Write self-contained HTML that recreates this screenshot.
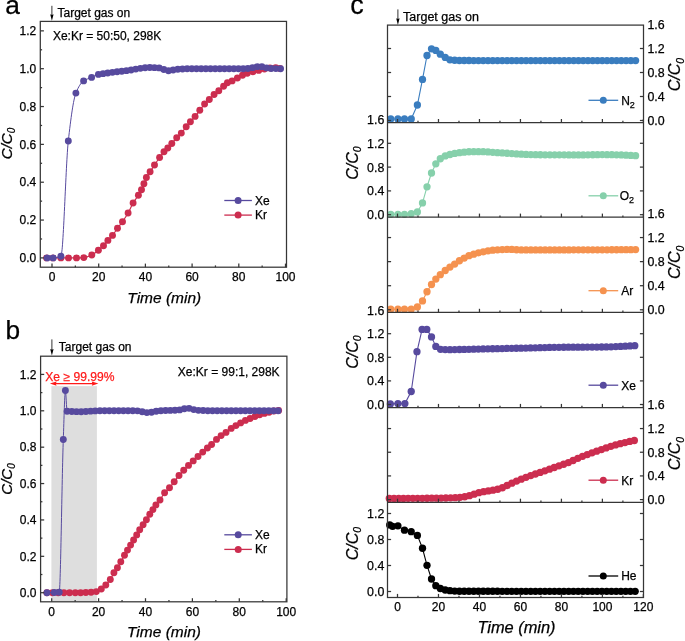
<!DOCTYPE html>
<html><head><meta charset="utf-8"><style>
html,body{margin:0;padding:0;background:#fff;width:685px;height:641px;overflow:hidden;position:relative}
</style></head><body>
<div style="position:absolute;left:0;top:0;width:685px;height:641px;will-change:transform">
<svg width="685" height="641" viewBox="0 0 685 641" style="position:absolute;left:0;top:0"><g font-family='"Liberation Sans", sans-serif'><path d="M46.60,257.90 C48.73,257.90 50.87,257.90 53.00,257.90 C55.63,257.90 58.27,257.90 60.90,257.90 C63.43,257.90 65.97,257.90 68.50,257.90 C71.17,257.90 73.83,257.90 76.50,257.90 C78.93,257.90 81.37,257.78 83.80,257.60 C86.47,257.41 89.13,256.21 91.80,255.00 C94.00,254.00 96.20,251.94 98.40,250.20 C100.10,248.85 101.80,247.53 103.50,245.80 C104.97,244.31 106.43,242.09 107.90,240.40 C109.43,238.63 110.97,237.28 112.50,235.40 C114.17,233.35 115.83,230.58 117.50,228.30 C119.17,226.02 120.83,224.08 122.50,221.70 C124.37,219.04 126.23,216.27 128.10,213.00 C129.77,210.08 131.43,205.81 133.10,203.00 C134.87,200.02 136.63,198.17 138.40,195.30 C139.43,193.62 140.47,191.88 141.50,189.70 C142.30,188.01 143.10,185.69 143.90,183.70 C144.73,181.62 145.57,179.11 146.40,177.50 C147.63,175.12 148.87,173.70 150.10,171.80 C151.57,169.54 153.03,167.21 154.50,165.00 C156.20,162.44 157.90,159.84 159.60,157.50 C161.07,155.48 162.53,153.45 164.00,151.80 C165.27,150.37 166.53,149.34 167.80,148.00 C169.13,146.59 170.47,145.02 171.80,143.50 C173.43,141.63 175.07,139.58 176.70,137.80 C178.23,136.13 179.77,134.84 181.30,133.10 C182.93,131.24 184.57,128.84 186.20,126.80 C187.60,125.05 189.00,123.34 190.40,121.70 C191.97,119.87 193.53,118.29 195.10,116.40 C196.67,114.51 198.23,112.34 199.80,110.30 C201.40,108.21 203.00,105.77 204.60,104.00 C206.17,102.27 207.73,101.06 209.30,99.50 C210.90,97.90 212.50,95.96 214.10,94.50 C215.67,93.07 217.23,92.06 218.80,90.70 C220.40,89.31 222.00,87.66 223.60,86.20 C224.87,85.04 226.13,83.51 227.40,82.80 C228.97,81.92 230.53,81.63 232.10,80.90 C233.87,80.08 235.63,78.97 237.40,78.00 C239.10,77.07 240.80,75.98 242.50,75.20 C244.10,74.47 245.70,73.81 247.30,73.30 C249.20,72.70 251.10,72.28 253.00,71.80 C254.90,71.32 256.80,70.85 258.70,70.40 C260.60,69.95 262.50,69.50 264.40,69.10 C266.27,68.71 268.13,68.19 270.00,68.00 C271.90,67.80 273.80,67.60 275.70,67.60 C277.10,67.60 278.50,68.20 279.90,68.50" fill="none" stroke="#cc2d4f" stroke-width="1.2"/><g fill="#cc2d4f"><circle cx="46.60" cy="257.90" r="3.45"/><circle cx="53.00" cy="257.90" r="3.45"/><circle cx="60.90" cy="257.90" r="3.45"/><circle cx="68.50" cy="257.90" r="3.45"/><circle cx="76.50" cy="257.90" r="3.45"/><circle cx="83.80" cy="257.60" r="3.45"/><circle cx="91.80" cy="255.00" r="3.45"/><circle cx="98.40" cy="250.20" r="3.45"/><circle cx="103.50" cy="245.80" r="3.45"/><circle cx="107.90" cy="240.40" r="3.45"/><circle cx="112.50" cy="235.40" r="3.45"/><circle cx="117.50" cy="228.30" r="3.45"/><circle cx="122.50" cy="221.70" r="3.45"/><circle cx="128.10" cy="213.00" r="3.45"/><circle cx="133.10" cy="203.00" r="3.45"/><circle cx="138.40" cy="195.30" r="3.45"/><circle cx="141.50" cy="189.70" r="3.45"/><circle cx="143.90" cy="183.70" r="3.45"/><circle cx="146.40" cy="177.50" r="3.45"/><circle cx="150.10" cy="171.80" r="3.45"/><circle cx="154.50" cy="165.00" r="3.45"/><circle cx="159.60" cy="157.50" r="3.45"/><circle cx="164.00" cy="151.80" r="3.45"/><circle cx="167.80" cy="148.00" r="3.45"/><circle cx="171.80" cy="143.50" r="3.45"/><circle cx="176.70" cy="137.80" r="3.45"/><circle cx="181.30" cy="133.10" r="3.45"/><circle cx="186.20" cy="126.80" r="3.45"/><circle cx="190.40" cy="121.70" r="3.45"/><circle cx="195.10" cy="116.40" r="3.45"/><circle cx="199.80" cy="110.30" r="3.45"/><circle cx="204.60" cy="104.00" r="3.45"/><circle cx="209.30" cy="99.50" r="3.45"/><circle cx="214.10" cy="94.50" r="3.45"/><circle cx="218.80" cy="90.70" r="3.45"/><circle cx="223.60" cy="86.20" r="3.45"/><circle cx="227.40" cy="82.80" r="3.45"/><circle cx="232.10" cy="80.90" r="3.45"/><circle cx="237.40" cy="78.00" r="3.45"/><circle cx="242.50" cy="75.20" r="3.45"/><circle cx="247.30" cy="73.30" r="3.45"/><circle cx="253.00" cy="71.80" r="3.45"/><circle cx="258.70" cy="70.40" r="3.45"/><circle cx="264.40" cy="69.10" r="3.45"/><circle cx="270.00" cy="68.00" r="3.45"/><circle cx="275.70" cy="67.60" r="3.45"/><circle cx="279.90" cy="68.50" r="3.45"/></g><path d="M47.20,257.90 C49.17,257.90 51.13,257.90 53.10,257.90 C55.70,257.90 58.30,257.36 60.90,256.30 C63.37,255.29 65.83,163.18 68.30,141.00 C70.83,118.22 73.37,99.52 75.90,93.10 C78.47,86.59 81.03,82.67 83.60,80.90 C86.27,79.06 88.93,78.57 91.60,77.40 C93.87,76.40 96.13,74.90 98.40,74.40 C99.97,74.05 101.53,73.91 103.10,73.67 C104.66,73.44 106.21,73.20 107.77,72.97 C109.33,72.75 110.88,72.54 112.44,72.34 C114.00,72.13 115.55,71.95 117.11,71.76 C118.67,71.57 120.22,71.39 121.78,71.20 C123.34,71.01 124.89,70.84 126.45,70.63 C128.01,70.42 129.56,70.18 131.12,69.93 C132.68,69.68 134.23,69.37 135.79,69.11 C137.35,68.84 138.90,68.55 140.46,68.33 C142.02,68.11 143.57,67.86 145.13,67.76 C146.69,67.66 148.24,67.57 149.80,67.57 C151.36,67.57 152.91,67.62 154.47,67.67 C156.03,67.72 157.58,67.78 159.14,67.92 C160.70,68.07 162.25,69.07 163.81,69.53 C165.37,70.00 166.92,70.77 168.48,70.77 C170.04,70.77 171.59,70.31 173.15,70.07 C174.71,69.82 176.26,69.43 177.82,69.29 C179.38,69.15 180.93,69.08 182.49,69.00 C184.05,68.92 185.60,68.83 187.16,68.79 C188.72,68.75 190.27,68.70 191.83,68.70 C193.39,68.70 194.94,68.70 196.50,68.70 C198.06,68.70 199.61,68.70 201.17,68.70 C202.73,68.70 204.28,68.70 205.84,68.70 C207.40,68.70 208.95,68.70 210.51,68.70 C212.07,68.70 213.62,68.70 215.18,68.70 C216.74,68.70 218.29,68.70 219.85,68.70 C221.41,68.70 222.96,68.70 224.52,68.70 C226.08,68.70 227.63,68.70 229.19,68.70 C230.75,68.70 232.30,68.70 233.86,68.70 C235.42,68.70 236.97,68.70 238.53,68.70 C240.09,68.70 241.64,68.70 243.20,68.70 C244.76,68.70 246.31,68.64 247.87,68.57 C249.43,68.49 250.98,67.95 252.54,67.63 C254.10,67.31 255.65,66.64 257.21,66.64 C258.77,66.64 260.32,66.64 261.88,66.65 C263.44,66.65 264.99,67.63 266.55,67.88 C268.11,68.14 269.66,68.34 271.22,68.43 C272.78,68.53 274.33,68.59 275.89,68.62 C277.45,68.66 279.00,68.67 280.56,68.70" fill="none" stroke="#574a9e" stroke-width="1.0"/><g fill="#574a9e"><circle cx="47.20" cy="257.90" r="3.45"/><circle cx="53.10" cy="257.90" r="3.45"/><circle cx="60.90" cy="256.30" r="3.45"/><circle cx="68.30" cy="141.00" r="3.45"/><circle cx="75.90" cy="93.10" r="3.45"/><circle cx="83.60" cy="80.90" r="3.45"/><circle cx="91.60" cy="77.40" r="3.45"/><circle cx="98.40" cy="74.40" r="3.45"/><circle cx="103.10" cy="73.67" r="3.45"/><circle cx="107.77" cy="72.97" r="3.45"/><circle cx="112.44" cy="72.34" r="3.45"/><circle cx="117.11" cy="71.76" r="3.45"/><circle cx="121.78" cy="71.20" r="3.45"/><circle cx="126.45" cy="70.63" r="3.45"/><circle cx="131.12" cy="69.93" r="3.45"/><circle cx="135.79" cy="69.11" r="3.45"/><circle cx="140.46" cy="68.33" r="3.45"/><circle cx="145.13" cy="67.76" r="3.45"/><circle cx="149.80" cy="67.57" r="3.45"/><circle cx="154.47" cy="67.67" r="3.45"/><circle cx="159.14" cy="67.92" r="3.45"/><circle cx="163.81" cy="69.53" r="3.45"/><circle cx="168.48" cy="70.77" r="3.45"/><circle cx="173.15" cy="70.07" r="3.45"/><circle cx="177.82" cy="69.29" r="3.45"/><circle cx="182.49" cy="69.00" r="3.45"/><circle cx="187.16" cy="68.79" r="3.45"/><circle cx="191.83" cy="68.70" r="3.45"/><circle cx="196.50" cy="68.70" r="3.45"/><circle cx="201.17" cy="68.70" r="3.45"/><circle cx="205.84" cy="68.70" r="3.45"/><circle cx="210.51" cy="68.70" r="3.45"/><circle cx="215.18" cy="68.70" r="3.45"/><circle cx="219.85" cy="68.70" r="3.45"/><circle cx="224.52" cy="68.70" r="3.45"/><circle cx="229.19" cy="68.70" r="3.45"/><circle cx="233.86" cy="68.70" r="3.45"/><circle cx="238.53" cy="68.70" r="3.45"/><circle cx="243.20" cy="68.70" r="3.45"/><circle cx="247.87" cy="68.57" r="3.45"/><circle cx="252.54" cy="67.63" r="3.45"/><circle cx="257.21" cy="66.64" r="3.45"/><circle cx="261.88" cy="66.65" r="3.45"/><circle cx="266.55" cy="67.88" r="3.45"/><circle cx="271.22" cy="68.43" r="3.45"/><circle cx="275.89" cy="68.62" r="3.45"/><circle cx="280.56" cy="68.70" r="3.45"/></g><rect x="40.30" y="21.40" width="246.20" height="245.80" fill="none" stroke="#363636" stroke-width="1.25"/><line x1="40.30" y1="257.90" x2="43.90" y2="257.90" stroke="#363636" stroke-width="1.25"/><text x="36.20" y="262.10" font-size="12" text-anchor="end" fill="#000" stroke="#000" stroke-width="0.25" >0.0</text><line x1="40.30" y1="238.98" x2="42.10" y2="238.98" stroke="#363636" stroke-width="1.25"/><line x1="40.30" y1="220.06" x2="43.90" y2="220.06" stroke="#363636" stroke-width="1.25"/><text x="36.20" y="224.26" font-size="12" text-anchor="end" fill="#000" stroke="#000" stroke-width="0.25" >0.2</text><line x1="40.30" y1="201.14" x2="42.10" y2="201.14" stroke="#363636" stroke-width="1.25"/><line x1="40.30" y1="182.22" x2="43.90" y2="182.22" stroke="#363636" stroke-width="1.25"/><text x="36.20" y="186.42" font-size="12" text-anchor="end" fill="#000" stroke="#000" stroke-width="0.25" >0.4</text><line x1="40.30" y1="163.30" x2="42.10" y2="163.30" stroke="#363636" stroke-width="1.25"/><line x1="40.30" y1="144.38" x2="43.90" y2="144.38" stroke="#363636" stroke-width="1.25"/><text x="36.20" y="148.58" font-size="12" text-anchor="end" fill="#000" stroke="#000" stroke-width="0.25" >0.6</text><line x1="40.30" y1="125.46" x2="42.10" y2="125.46" stroke="#363636" stroke-width="1.25"/><line x1="40.30" y1="106.54" x2="43.90" y2="106.54" stroke="#363636" stroke-width="1.25"/><text x="36.20" y="110.74" font-size="12" text-anchor="end" fill="#000" stroke="#000" stroke-width="0.25" >0.8</text><line x1="40.30" y1="87.62" x2="42.10" y2="87.62" stroke="#363636" stroke-width="1.25"/><line x1="40.30" y1="68.70" x2="43.90" y2="68.70" stroke="#363636" stroke-width="1.25"/><text x="36.20" y="72.90" font-size="12" text-anchor="end" fill="#000" stroke="#000" stroke-width="0.25" >1.0</text><line x1="40.30" y1="49.78" x2="42.10" y2="49.78" stroke="#363636" stroke-width="1.25"/><line x1="40.30" y1="30.86" x2="43.90" y2="30.86" stroke="#363636" stroke-width="1.25"/><text x="36.20" y="35.06" font-size="12" text-anchor="end" fill="#000" stroke="#000" stroke-width="0.25" >1.2</text><line x1="52.00" y1="267.20" x2="52.00" y2="263.60" stroke="#363636" stroke-width="1.25"/><text x="52.00" y="281.20" font-size="12" text-anchor="middle" fill="#000" stroke="#000" stroke-width="0.25" >0</text><line x1="75.35" y1="267.20" x2="75.35" y2="265.40" stroke="#363636" stroke-width="1.25"/><line x1="98.70" y1="267.20" x2="98.70" y2="263.60" stroke="#363636" stroke-width="1.25"/><text x="98.70" y="281.20" font-size="12" text-anchor="middle" fill="#000" stroke="#000" stroke-width="0.25" >20</text><line x1="122.05" y1="267.20" x2="122.05" y2="265.40" stroke="#363636" stroke-width="1.25"/><line x1="145.40" y1="267.20" x2="145.40" y2="263.60" stroke="#363636" stroke-width="1.25"/><text x="145.40" y="281.20" font-size="12" text-anchor="middle" fill="#000" stroke="#000" stroke-width="0.25" >40</text><line x1="168.75" y1="267.20" x2="168.75" y2="265.40" stroke="#363636" stroke-width="1.25"/><line x1="192.10" y1="267.20" x2="192.10" y2="263.60" stroke="#363636" stroke-width="1.25"/><text x="192.10" y="281.20" font-size="12" text-anchor="middle" fill="#000" stroke="#000" stroke-width="0.25" >60</text><line x1="215.45" y1="267.20" x2="215.45" y2="265.40" stroke="#363636" stroke-width="1.25"/><line x1="238.80" y1="267.20" x2="238.80" y2="263.60" stroke="#363636" stroke-width="1.25"/><text x="238.80" y="281.20" font-size="12" text-anchor="middle" fill="#000" stroke="#000" stroke-width="0.25" >80</text><line x1="262.15" y1="267.20" x2="262.15" y2="265.40" stroke="#363636" stroke-width="1.25"/><line x1="285.50" y1="267.20" x2="285.50" y2="263.60" stroke="#363636" stroke-width="1.25"/><text x="285.50" y="281.20" font-size="12" text-anchor="middle" fill="#000" stroke="#000" stroke-width="0.25" >100</text><text x="5.20" y="14.20" font-size="26.3" text-anchor="start" fill="#000" stroke="#000" stroke-width="0.25" >a</text><line x1="51.90" y1="5.80" x2="51.90" y2="15.80" stroke="#333" stroke-width="1.0"/><path d="M50.20,14.20 Q51.90,15.20 53.60,14.20 L51.90,20.80 Z" fill="#000"/><text x="57.50" y="17.10" font-size="12" text-anchor="start" fill="#000" stroke="#000" stroke-width="0.25" >Target gas on</text><text x="52.90" y="39.70" font-size="12" text-anchor="start" fill="#000" stroke="#000" stroke-width="0.25" >Xe:Kr = 50:50, 298K</text><line x1="224.30" y1="200.50" x2="251.90" y2="200.50" stroke="#574a9e" stroke-width="1.3"/><circle cx="238.1" cy="200.5" r="3.5" fill="#574a9e"/><text x="255.10" y="204.60" font-size="12" text-anchor="start" fill="#000" stroke="#000" stroke-width="0.25" >Xe</text><line x1="224.30" y1="215.10" x2="251.90" y2="215.10" stroke="#cc2d4f" stroke-width="1.3"/><circle cx="238.1" cy="215.1" r="3.5" fill="#cc2d4f"/><text x="255.10" y="219.20" font-size="12" text-anchor="start" fill="#000" stroke="#000" stroke-width="0.25" >Kr</text><text transform="translate(11.8,159.2) rotate(-90)" font-size="15" stroke="#000" stroke-width="0.25" font-style="italic">C/C<tspan font-size="10" font-style="italic" dy="3.3">0</tspan></text><text x="164.30" y="302.70" font-size="15.5" text-anchor="middle" fill="#000" stroke="#000" stroke-width="0.25" font-style="italic">Time (min)</text><rect x="51.4" y="386.1" width="45.5" height="215.7" fill="#dedede"/><path d="M46.90,592.70 C48.77,592.70 50.63,592.70 52.50,592.70 C54.40,592.70 56.30,592.70 58.20,592.70 C60.10,592.70 62.00,592.70 63.90,592.70 C65.80,592.70 67.70,592.70 69.60,592.70 C71.50,592.70 73.40,592.70 75.30,592.70 C77.07,592.70 78.83,592.70 80.60,592.70 C82.33,592.70 84.07,592.57 85.80,592.50 C87.57,592.43 89.33,592.40 91.10,592.30 C92.83,592.20 94.57,591.97 96.30,591.60 C97.97,591.24 99.63,590.10 101.30,589.00 C102.80,588.01 104.30,586.54 105.80,585.00 C107.30,583.46 108.80,581.73 110.30,579.50 C111.50,577.72 112.70,574.74 113.90,572.80 C115.07,570.92 116.23,569.66 117.40,567.80 C118.53,566.00 119.67,563.71 120.80,561.70 C122.03,559.51 123.27,557.33 124.50,555.20 C125.50,553.47 126.50,551.76 127.50,550.10 C128.53,548.39 129.57,546.81 130.60,545.10 C131.60,543.44 132.60,541.67 133.60,540.00 C134.63,538.27 135.67,536.63 136.70,534.90 C137.70,533.23 138.70,531.38 139.70,529.80 C140.83,528.01 141.97,526.51 143.10,524.80 C144.20,523.14 145.30,521.44 146.40,519.70 C147.53,517.91 148.67,515.95 149.80,514.20 C150.83,512.60 151.87,511.18 152.90,509.60 C153.90,508.08 154.90,506.27 155.90,504.90 C157.27,503.03 158.63,501.86 160.00,500.00 C161.53,497.92 163.07,494.59 164.60,492.70 C166.23,490.69 167.87,489.63 169.50,487.80 C171.07,486.04 172.63,483.83 174.20,481.80 C175.80,479.73 177.40,477.42 179.00,475.50 C180.57,473.62 182.13,471.96 183.70,470.30 C185.30,468.60 186.90,466.98 188.50,465.40 C190.07,463.85 191.63,462.37 193.20,460.90 C194.80,459.40 196.40,457.98 198.00,456.50 C199.57,455.05 201.13,453.51 202.70,452.10 C204.27,450.69 205.83,449.33 207.40,448.00 C208.80,446.81 210.20,445.79 211.60,444.50 C213.23,442.99 214.87,440.90 216.50,439.40 C218.03,437.99 219.57,436.72 221.10,435.60 C222.73,434.41 224.37,433.55 226.00,432.40 C227.73,431.18 229.47,429.56 231.20,428.40 C232.77,427.35 234.33,426.52 235.90,425.60 C237.47,424.68 239.03,423.76 240.60,422.90 C242.20,422.03 243.80,421.13 245.40,420.40 C246.97,419.69 248.53,419.13 250.10,418.50 C251.70,417.86 253.30,417.24 254.90,416.60 C256.47,415.97 258.03,415.21 259.60,414.70 C261.20,414.18 262.80,413.80 264.40,413.40 C265.97,413.01 267.53,412.69 269.10,412.30 C270.70,411.90 272.30,411.24 273.90,411.00 C275.47,410.76 277.03,410.67 278.60,410.50" fill="none" stroke="#cc2d4f" stroke-width="1.2"/><g fill="#cc2d4f"><circle cx="46.90" cy="592.70" r="3.45"/><circle cx="52.50" cy="592.70" r="3.45"/><circle cx="58.20" cy="592.70" r="3.45"/><circle cx="63.90" cy="592.70" r="3.45"/><circle cx="69.60" cy="592.70" r="3.45"/><circle cx="75.30" cy="592.70" r="3.45"/><circle cx="80.60" cy="592.70" r="3.45"/><circle cx="85.80" cy="592.50" r="3.45"/><circle cx="91.10" cy="592.30" r="3.45"/><circle cx="96.30" cy="591.60" r="3.45"/><circle cx="101.30" cy="589.00" r="3.45"/><circle cx="105.80" cy="585.00" r="3.45"/><circle cx="110.30" cy="579.50" r="3.45"/><circle cx="113.90" cy="572.80" r="3.45"/><circle cx="117.40" cy="567.80" r="3.45"/><circle cx="120.80" cy="561.70" r="3.45"/><circle cx="124.50" cy="555.20" r="3.45"/><circle cx="127.50" cy="550.10" r="3.45"/><circle cx="130.60" cy="545.10" r="3.45"/><circle cx="133.60" cy="540.00" r="3.45"/><circle cx="136.70" cy="534.90" r="3.45"/><circle cx="139.70" cy="529.80" r="3.45"/><circle cx="143.10" cy="524.80" r="3.45"/><circle cx="146.40" cy="519.70" r="3.45"/><circle cx="149.80" cy="514.20" r="3.45"/><circle cx="152.90" cy="509.60" r="3.45"/><circle cx="155.90" cy="504.90" r="3.45"/><circle cx="160.00" cy="500.00" r="3.45"/><circle cx="164.60" cy="492.70" r="3.45"/><circle cx="169.50" cy="487.80" r="3.45"/><circle cx="174.20" cy="481.80" r="3.45"/><circle cx="179.00" cy="475.50" r="3.45"/><circle cx="183.70" cy="470.30" r="3.45"/><circle cx="188.50" cy="465.40" r="3.45"/><circle cx="193.20" cy="460.90" r="3.45"/><circle cx="198.00" cy="456.50" r="3.45"/><circle cx="202.70" cy="452.10" r="3.45"/><circle cx="207.40" cy="448.00" r="3.45"/><circle cx="211.60" cy="444.50" r="3.45"/><circle cx="216.50" cy="439.40" r="3.45"/><circle cx="221.10" cy="435.60" r="3.45"/><circle cx="226.00" cy="432.40" r="3.45"/><circle cx="231.20" cy="428.40" r="3.45"/><circle cx="235.90" cy="425.60" r="3.45"/><circle cx="240.60" cy="422.90" r="3.45"/><circle cx="245.40" cy="420.40" r="3.45"/><circle cx="250.10" cy="418.50" r="3.45"/><circle cx="254.90" cy="416.60" r="3.45"/><circle cx="259.60" cy="414.70" r="3.45"/><circle cx="264.40" cy="413.40" r="3.45"/><circle cx="269.10" cy="412.30" r="3.45"/><circle cx="273.90" cy="411.00" r="3.45"/><circle cx="278.60" cy="410.50" r="3.45"/></g><path d="M46.90,592.70 C49.37,592.63 51.83,592.59 54.30,592.50 C55.93,592.44 57.57,592.41 59.20,592.20 C60.57,592.03 61.93,477.77 63.30,439.50 C64.00,419.90 64.70,390.50 65.40,390.50 C65.97,390.50 66.53,411.12 67.10,411.20 C68.67,411.42 70.23,411.40 71.80,411.48 C73.36,411.55 74.93,411.65 76.49,411.67 C78.05,411.68 79.62,411.70 81.18,411.70 C82.74,411.70 84.31,411.57 85.87,411.49 C87.43,411.40 89.00,411.26 90.56,411.16 C92.12,411.06 93.69,410.92 95.25,410.88 C96.81,410.84 98.38,410.80 99.94,410.80 C101.50,410.80 103.07,410.80 104.63,410.80 C106.19,410.80 107.76,410.80 109.32,410.80 C110.88,410.80 112.45,410.80 114.01,410.80 C115.57,410.80 117.14,410.80 118.70,410.80 C120.26,410.80 121.83,410.80 123.39,410.80 C124.95,410.80 126.52,410.80 128.08,410.80 C129.64,410.80 131.21,410.80 132.77,410.80 C134.33,410.80 135.90,410.82 137.46,410.87 C139.02,410.91 140.59,411.46 142.15,411.75 C143.71,412.03 145.28,412.58 146.84,412.58 C148.40,412.58 149.97,412.41 151.53,412.24 C153.09,412.08 154.66,411.51 156.22,411.27 C157.78,411.04 159.35,410.81 160.91,410.72 C162.47,410.63 164.04,410.58 165.60,410.53 C167.16,410.49 168.73,410.46 170.29,410.41 C171.85,410.37 173.42,410.33 174.98,410.26 C176.54,410.19 178.11,410.09 179.67,409.90 C181.23,409.72 182.80,408.92 184.36,408.73 C185.92,408.54 187.49,408.36 189.05,408.36 C190.61,408.36 192.18,409.29 193.74,409.59 C195.30,409.90 196.87,410.22 198.43,410.33 C199.99,410.44 201.56,410.48 203.12,410.54 C204.68,410.60 206.25,410.66 207.81,410.70 C209.37,410.73 210.94,410.77 212.50,410.78 C214.06,410.79 215.63,410.80 217.19,410.80 C218.75,410.80 220.32,410.80 221.88,410.80 C223.44,410.80 225.01,410.80 226.57,410.80 C228.13,410.80 229.70,410.80 231.26,410.80 C232.82,410.80 234.39,410.80 235.95,410.80 C237.51,410.80 239.08,410.80 240.64,410.80 C242.20,410.80 243.77,410.80 245.33,410.80 C246.89,410.80 248.46,410.80 250.02,410.80 C251.58,410.80 253.15,410.80 254.71,410.80 C256.27,410.80 257.84,410.80 259.40,410.80 C260.96,410.80 262.53,410.80 264.09,410.80 C265.65,410.80 267.22,410.80 268.78,410.80 C270.34,410.80 271.91,410.80 273.47,410.80 C275.03,410.80 276.60,410.80 278.16,410.80" fill="none" stroke="#574a9e" stroke-width="1.0"/><g fill="#574a9e"><circle cx="46.90" cy="592.70" r="3.45"/><circle cx="54.30" cy="592.50" r="3.45"/><circle cx="59.20" cy="592.20" r="3.45"/><circle cx="63.30" cy="439.50" r="3.45"/><circle cx="65.40" cy="390.50" r="3.45"/><circle cx="67.10" cy="411.20" r="3.45"/><circle cx="71.80" cy="411.48" r="3.45"/><circle cx="76.49" cy="411.67" r="3.45"/><circle cx="81.18" cy="411.70" r="3.45"/><circle cx="85.87" cy="411.49" r="3.45"/><circle cx="90.56" cy="411.16" r="3.45"/><circle cx="95.25" cy="410.88" r="3.45"/><circle cx="99.94" cy="410.80" r="3.45"/><circle cx="104.63" cy="410.80" r="3.45"/><circle cx="109.32" cy="410.80" r="3.45"/><circle cx="114.01" cy="410.80" r="3.45"/><circle cx="118.70" cy="410.80" r="3.45"/><circle cx="123.39" cy="410.80" r="3.45"/><circle cx="128.08" cy="410.80" r="3.45"/><circle cx="132.77" cy="410.80" r="3.45"/><circle cx="137.46" cy="410.87" r="3.45"/><circle cx="142.15" cy="411.75" r="3.45"/><circle cx="146.84" cy="412.58" r="3.45"/><circle cx="151.53" cy="412.24" r="3.45"/><circle cx="156.22" cy="411.27" r="3.45"/><circle cx="160.91" cy="410.72" r="3.45"/><circle cx="165.60" cy="410.53" r="3.45"/><circle cx="170.29" cy="410.41" r="3.45"/><circle cx="174.98" cy="410.26" r="3.45"/><circle cx="179.67" cy="409.90" r="3.45"/><circle cx="184.36" cy="408.73" r="3.45"/><circle cx="189.05" cy="408.36" r="3.45"/><circle cx="193.74" cy="409.59" r="3.45"/><circle cx="198.43" cy="410.33" r="3.45"/><circle cx="203.12" cy="410.54" r="3.45"/><circle cx="207.81" cy="410.70" r="3.45"/><circle cx="212.50" cy="410.78" r="3.45"/><circle cx="217.19" cy="410.80" r="3.45"/><circle cx="221.88" cy="410.80" r="3.45"/><circle cx="226.57" cy="410.80" r="3.45"/><circle cx="231.26" cy="410.80" r="3.45"/><circle cx="235.95" cy="410.80" r="3.45"/><circle cx="240.64" cy="410.80" r="3.45"/><circle cx="245.33" cy="410.80" r="3.45"/><circle cx="250.02" cy="410.80" r="3.45"/><circle cx="254.71" cy="410.80" r="3.45"/><circle cx="259.40" cy="410.80" r="3.45"/><circle cx="264.09" cy="410.80" r="3.45"/><circle cx="268.78" cy="410.80" r="3.45"/><circle cx="273.47" cy="410.80" r="3.45"/><circle cx="278.16" cy="410.80" r="3.45"/></g><rect x="40.60" y="356.20" width="246.30" height="245.60" fill="none" stroke="#363636" stroke-width="1.25"/><line x1="40.60" y1="592.70" x2="44.20" y2="592.70" stroke="#363636" stroke-width="1.25"/><text x="36.50" y="596.90" font-size="12" text-anchor="end" fill="#000" stroke="#000" stroke-width="0.25" >0.0</text><line x1="40.60" y1="574.51" x2="42.40" y2="574.51" stroke="#363636" stroke-width="1.25"/><line x1="40.60" y1="556.32" x2="44.20" y2="556.32" stroke="#363636" stroke-width="1.25"/><text x="36.50" y="560.52" font-size="12" text-anchor="end" fill="#000" stroke="#000" stroke-width="0.25" >0.2</text><line x1="40.60" y1="538.13" x2="42.40" y2="538.13" stroke="#363636" stroke-width="1.25"/><line x1="40.60" y1="519.94" x2="44.20" y2="519.94" stroke="#363636" stroke-width="1.25"/><text x="36.50" y="524.14" font-size="12" text-anchor="end" fill="#000" stroke="#000" stroke-width="0.25" >0.4</text><line x1="40.60" y1="501.75" x2="42.40" y2="501.75" stroke="#363636" stroke-width="1.25"/><line x1="40.60" y1="483.56" x2="44.20" y2="483.56" stroke="#363636" stroke-width="1.25"/><text x="36.50" y="487.76" font-size="12" text-anchor="end" fill="#000" stroke="#000" stroke-width="0.25" >0.6</text><line x1="40.60" y1="465.37" x2="42.40" y2="465.37" stroke="#363636" stroke-width="1.25"/><line x1="40.60" y1="447.18" x2="44.20" y2="447.18" stroke="#363636" stroke-width="1.25"/><text x="36.50" y="451.38" font-size="12" text-anchor="end" fill="#000" stroke="#000" stroke-width="0.25" >0.8</text><line x1="40.60" y1="428.99" x2="42.40" y2="428.99" stroke="#363636" stroke-width="1.25"/><line x1="40.60" y1="410.80" x2="44.20" y2="410.80" stroke="#363636" stroke-width="1.25"/><text x="36.50" y="415.00" font-size="12" text-anchor="end" fill="#000" stroke="#000" stroke-width="0.25" >1.0</text><line x1="40.60" y1="392.61" x2="42.40" y2="392.61" stroke="#363636" stroke-width="1.25"/><line x1="40.60" y1="374.42" x2="44.20" y2="374.42" stroke="#363636" stroke-width="1.25"/><text x="36.50" y="378.62" font-size="12" text-anchor="end" fill="#000" stroke="#000" stroke-width="0.25" >1.2</text><line x1="51.70" y1="601.80" x2="51.70" y2="598.20" stroke="#363636" stroke-width="1.25"/><text x="51.70" y="615.80" font-size="12" text-anchor="middle" fill="#000" stroke="#000" stroke-width="0.25" >0</text><line x1="75.15" y1="601.80" x2="75.15" y2="600.00" stroke="#363636" stroke-width="1.25"/><line x1="98.60" y1="601.80" x2="98.60" y2="598.20" stroke="#363636" stroke-width="1.25"/><text x="98.60" y="615.80" font-size="12" text-anchor="middle" fill="#000" stroke="#000" stroke-width="0.25" >20</text><line x1="122.05" y1="601.80" x2="122.05" y2="600.00" stroke="#363636" stroke-width="1.25"/><line x1="145.50" y1="601.80" x2="145.50" y2="598.20" stroke="#363636" stroke-width="1.25"/><text x="145.50" y="615.80" font-size="12" text-anchor="middle" fill="#000" stroke="#000" stroke-width="0.25" >40</text><line x1="168.95" y1="601.80" x2="168.95" y2="600.00" stroke="#363636" stroke-width="1.25"/><line x1="192.40" y1="601.80" x2="192.40" y2="598.20" stroke="#363636" stroke-width="1.25"/><text x="192.40" y="615.80" font-size="12" text-anchor="middle" fill="#000" stroke="#000" stroke-width="0.25" >60</text><line x1="215.85" y1="601.80" x2="215.85" y2="600.00" stroke="#363636" stroke-width="1.25"/><line x1="239.30" y1="601.80" x2="239.30" y2="598.20" stroke="#363636" stroke-width="1.25"/><text x="239.30" y="615.80" font-size="12" text-anchor="middle" fill="#000" stroke="#000" stroke-width="0.25" >80</text><line x1="262.75" y1="601.80" x2="262.75" y2="600.00" stroke="#363636" stroke-width="1.25"/><line x1="286.20" y1="601.80" x2="286.20" y2="598.20" stroke="#363636" stroke-width="1.25"/><text x="286.20" y="615.80" font-size="12" text-anchor="middle" fill="#000" stroke="#000" stroke-width="0.25" >100</text><text x="5.60" y="339.20" font-size="26.3" text-anchor="start" fill="#000" stroke="#000" stroke-width="0.25" >b</text><line x1="51.90" y1="339.40" x2="51.90" y2="350.60" stroke="#333" stroke-width="1.0"/><path d="M50.20,349.00 Q51.90,350.00 53.60,349.00 L51.90,355.60 Z" fill="#000"/><text x="58.80" y="350.80" font-size="12" text-anchor="start" fill="#000" stroke="#000" stroke-width="0.25" >Target gas on</text><text x="279.60" y="375.50" font-size="12" text-anchor="end" fill="#000" stroke="#000" stroke-width="0.25" >Xe:Kr = 99:1, 298K</text><text x="45.30" y="381.10" font-size="12.1" text-anchor="start" fill="#ff1a1a" stroke="#ff1a1a" stroke-width="0.25" >Xe ≥ 99.99%</text><line x1="54.00" y1="383.60" x2="94.00" y2="383.60" stroke="#ff1a1a" stroke-width="1.1"/><path d="M49.9,383.6 L56.5,381.5 Q55.5,383.6 56.5,385.7 Z" fill="#ff1a1a"/><path d="M98.4,383.6 L91.8,381.5 Q92.8,383.6 91.8,385.7 Z" fill="#ff1a1a"/><line x1="224.30" y1="534.80" x2="251.90" y2="534.80" stroke="#574a9e" stroke-width="1.3"/><circle cx="238.2" cy="534.8" r="3.5" fill="#574a9e"/><text x="255.10" y="538.90" font-size="12" text-anchor="start" fill="#000" stroke="#000" stroke-width="0.25" >Xe</text><line x1="224.30" y1="549.40" x2="251.90" y2="549.40" stroke="#cc2d4f" stroke-width="1.3"/><circle cx="238.2" cy="549.4" r="3.5" fill="#cc2d4f"/><text x="255.10" y="553.40" font-size="12" text-anchor="start" fill="#000" stroke="#000" stroke-width="0.25" >Kr</text><text transform="translate(11.8,494.7) rotate(-90)" font-size="15" stroke="#000" stroke-width="0.25" font-style="italic">C/C<tspan font-size="10" font-style="italic" dy="3.3">0</tspan></text><text x="164.00" y="637.40" font-size="15.5" text-anchor="middle" fill="#000" stroke="#000" stroke-width="0.25" font-style="italic">Time (min)</text><text x="350.30" y="14.40" font-size="27" text-anchor="start" fill="#000" stroke="#000" stroke-width="0.25" >c</text><line x1="397.90" y1="9.40" x2="397.90" y2="19.90" stroke="#333" stroke-width="1.0"/><path d="M396.20,18.30 Q397.90,19.30 399.60,18.30 L397.90,24.90 Z" fill="#000"/><text x="403.10" y="20.80" font-size="12.5" text-anchor="start" fill="#000" stroke="#000" stroke-width="0.25" >Target gas on</text><polyline points="390.74,119.00 397.91,119.00 404.47,119.00 411.23,119.00 417.38,105.02 422.50,79.40 427.01,55.52 431.51,48.80 435.82,50.42 440.32,54.20 445.24,57.38 449.95,59.78 454.67,60.25 459.43,60.50 464.19,60.51 468.95,60.52 473.71,60.53 478.47,60.53 483.23,60.54 488.00,60.55 492.76,60.55 497.52,60.56 502.28,60.56 507.04,60.57 511.80,60.57 516.56,60.58 521.32,60.58 526.09,60.59 530.85,60.59 535.61,60.59 540.37,60.60 545.13,60.60 549.89,60.60 554.65,60.61 559.41,60.61 564.18,60.61 568.94,60.61 573.70,60.61 578.46,60.61 583.22,60.62 587.98,60.62 592.74,60.62 597.50,60.62 602.27,60.62 607.03,60.62 611.79,60.62 616.55,60.62 621.31,60.62 626.07,60.62 630.83,60.62 635.59,60.62" fill="none" stroke="#3a7dbf" stroke-width="1.1" stroke-linejoin="round"/><g fill="#3a7dbf"><circle cx="390.74" cy="119.00" r="3.65"/><circle cx="397.91" cy="119.00" r="3.65"/><circle cx="404.47" cy="119.00" r="3.65"/><circle cx="411.23" cy="119.00" r="3.65"/><circle cx="417.38" cy="105.02" r="3.65"/><circle cx="422.50" cy="79.40" r="3.65"/><circle cx="427.01" cy="55.52" r="3.65"/><circle cx="431.51" cy="48.80" r="3.65"/><circle cx="435.82" cy="50.42" r="3.65"/><circle cx="440.32" cy="54.20" r="3.65"/><circle cx="445.24" cy="57.38" r="3.65"/><circle cx="449.95" cy="59.78" r="3.65"/><circle cx="454.67" cy="60.25" r="3.65"/><circle cx="459.43" cy="60.50" r="3.65"/><circle cx="464.19" cy="60.51" r="3.65"/><circle cx="468.95" cy="60.52" r="3.65"/><circle cx="473.71" cy="60.53" r="3.65"/><circle cx="478.47" cy="60.53" r="3.65"/><circle cx="483.23" cy="60.54" r="3.65"/><circle cx="488.00" cy="60.55" r="3.65"/><circle cx="492.76" cy="60.55" r="3.65"/><circle cx="497.52" cy="60.56" r="3.65"/><circle cx="502.28" cy="60.56" r="3.65"/><circle cx="507.04" cy="60.57" r="3.65"/><circle cx="511.80" cy="60.57" r="3.65"/><circle cx="516.56" cy="60.58" r="3.65"/><circle cx="521.32" cy="60.58" r="3.65"/><circle cx="526.09" cy="60.59" r="3.65"/><circle cx="530.85" cy="60.59" r="3.65"/><circle cx="535.61" cy="60.59" r="3.65"/><circle cx="540.37" cy="60.60" r="3.65"/><circle cx="545.13" cy="60.60" r="3.65"/><circle cx="549.89" cy="60.60" r="3.65"/><circle cx="554.65" cy="60.61" r="3.65"/><circle cx="559.41" cy="60.61" r="3.65"/><circle cx="564.18" cy="60.61" r="3.65"/><circle cx="568.94" cy="60.61" r="3.65"/><circle cx="573.70" cy="60.61" r="3.65"/><circle cx="578.46" cy="60.61" r="3.65"/><circle cx="583.22" cy="60.62" r="3.65"/><circle cx="587.98" cy="60.62" r="3.65"/><circle cx="592.74" cy="60.62" r="3.65"/><circle cx="597.50" cy="60.62" r="3.65"/><circle cx="602.27" cy="60.62" r="3.65"/><circle cx="607.03" cy="60.62" r="3.65"/><circle cx="611.79" cy="60.62" r="3.65"/><circle cx="616.55" cy="60.62" r="3.65"/><circle cx="621.31" cy="60.62" r="3.65"/><circle cx="626.07" cy="60.62" r="3.65"/><circle cx="630.83" cy="60.62" r="3.65"/><circle cx="635.59" cy="60.62" r="3.65"/></g><line x1="588.50" y1="100.30" x2="618.20" y2="100.30" stroke="#3a7dbf" stroke-width="1.3"/><circle cx="603.3" cy="100.30" r="3.5" fill="#3a7dbf"/><text x="621.20" y="104.70" font-size="12" text-anchor="start" fill="#000" stroke="#000" stroke-width="0.25" >N<tspan font-size="9" dy="3">2</tspan></text><line x1="397.50" y1="122.60" x2="397.50" y2="119.00" stroke="#363636" stroke-width="1.25"/><line x1="417.99" y1="122.60" x2="417.99" y2="120.80" stroke="#363636" stroke-width="1.25"/><line x1="438.48" y1="122.60" x2="438.48" y2="119.00" stroke="#363636" stroke-width="1.25"/><line x1="458.97" y1="122.60" x2="458.97" y2="120.80" stroke="#363636" stroke-width="1.25"/><line x1="479.46" y1="122.60" x2="479.46" y2="119.00" stroke="#363636" stroke-width="1.25"/><line x1="499.95" y1="122.60" x2="499.95" y2="120.80" stroke="#363636" stroke-width="1.25"/><line x1="520.44" y1="122.60" x2="520.44" y2="119.00" stroke="#363636" stroke-width="1.25"/><line x1="540.93" y1="122.60" x2="540.93" y2="120.80" stroke="#363636" stroke-width="1.25"/><line x1="561.42" y1="122.60" x2="561.42" y2="119.00" stroke="#363636" stroke-width="1.25"/><line x1="581.91" y1="122.60" x2="581.91" y2="120.80" stroke="#363636" stroke-width="1.25"/><line x1="602.40" y1="122.60" x2="602.40" y2="119.00" stroke="#363636" stroke-width="1.25"/><line x1="622.89" y1="122.60" x2="622.89" y2="120.80" stroke="#363636" stroke-width="1.25"/><line x1="643.38" y1="122.60" x2="643.38" y2="119.00" stroke="#363636" stroke-width="1.25"/><line x1="387.50" y1="120.50" x2="391.10" y2="120.50" stroke="#363636" stroke-width="1.25"/><line x1="643.50" y1="120.50" x2="639.90" y2="120.50" stroke="#363636" stroke-width="1.25"/><text x="647.40" y="124.90" font-size="12.4" text-anchor="start" fill="#000" stroke="#000" stroke-width="0.25" >0.0</text><line x1="387.50" y1="96.50" x2="391.10" y2="96.50" stroke="#363636" stroke-width="1.25"/><line x1="643.50" y1="96.50" x2="639.90" y2="96.50" stroke="#363636" stroke-width="1.25"/><text x="647.40" y="100.90" font-size="12.4" text-anchor="start" fill="#000" stroke="#000" stroke-width="0.25" >0.4</text><line x1="387.50" y1="72.50" x2="391.10" y2="72.50" stroke="#363636" stroke-width="1.25"/><line x1="643.50" y1="72.50" x2="639.90" y2="72.50" stroke="#363636" stroke-width="1.25"/><text x="647.40" y="76.90" font-size="12.4" text-anchor="start" fill="#000" stroke="#000" stroke-width="0.25" >0.8</text><line x1="387.50" y1="48.50" x2="391.10" y2="48.50" stroke="#363636" stroke-width="1.25"/><line x1="643.50" y1="48.50" x2="639.90" y2="48.50" stroke="#363636" stroke-width="1.25"/><text x="647.40" y="52.90" font-size="12.4" text-anchor="start" fill="#000" stroke="#000" stroke-width="0.25" >1.2</text><text x="647.40" y="28.90" font-size="12.4" text-anchor="start" fill="#000" stroke="#000" stroke-width="0.25" >1.6</text><text transform="translate(680.0,91.3) rotate(-90)" font-size="16" stroke="#000" stroke-width="0.25" font-style="italic">C/C<tspan font-size="10.5" font-style="italic" dy="3.6">0</tspan></text><polyline points="390.74,214.28 397.91,214.28 404.47,214.28 411.23,213.69 417.38,211.90 422.50,202.92 427.01,186.79 431.51,172.99 435.82,163.83 440.32,158.77 445.24,155.91 449.95,154.49 454.67,153.45 459.43,152.66 464.19,152.15 468.95,151.75 473.71,151.65 478.47,151.63 483.23,151.71 488.00,151.96 492.76,152.32 497.52,152.67 502.28,152.95 507.04,153.25 511.80,153.56 516.56,153.88 521.32,154.17 526.09,154.41 530.85,154.60 535.61,154.71 540.37,154.75 545.13,154.78 549.89,154.81 554.65,154.83 559.41,154.86 564.18,154.87 568.94,154.89 573.70,154.90 578.46,154.90 583.22,154.90 587.98,154.84 592.74,154.74 597.50,154.65 602.27,154.61 607.03,154.63 611.79,154.70 616.55,154.81 621.31,154.97 626.07,155.17 630.83,155.41 635.59,155.69" fill="none" stroke="#86d0ab" stroke-width="1.1" stroke-linejoin="round"/><g fill="#86d0ab"><circle cx="390.74" cy="214.28" r="3.65"/><circle cx="397.91" cy="214.28" r="3.65"/><circle cx="404.47" cy="214.28" r="3.65"/><circle cx="411.23" cy="213.69" r="3.65"/><circle cx="417.38" cy="211.90" r="3.65"/><circle cx="422.50" cy="202.92" r="3.65"/><circle cx="427.01" cy="186.79" r="3.65"/><circle cx="431.51" cy="172.99" r="3.65"/><circle cx="435.82" cy="163.83" r="3.65"/><circle cx="440.32" cy="158.77" r="3.65"/><circle cx="445.24" cy="155.91" r="3.65"/><circle cx="449.95" cy="154.49" r="3.65"/><circle cx="454.67" cy="153.45" r="3.65"/><circle cx="459.43" cy="152.66" r="3.65"/><circle cx="464.19" cy="152.15" r="3.65"/><circle cx="468.95" cy="151.75" r="3.65"/><circle cx="473.71" cy="151.65" r="3.65"/><circle cx="478.47" cy="151.63" r="3.65"/><circle cx="483.23" cy="151.71" r="3.65"/><circle cx="488.00" cy="151.96" r="3.65"/><circle cx="492.76" cy="152.32" r="3.65"/><circle cx="497.52" cy="152.67" r="3.65"/><circle cx="502.28" cy="152.95" r="3.65"/><circle cx="507.04" cy="153.25" r="3.65"/><circle cx="511.80" cy="153.56" r="3.65"/><circle cx="516.56" cy="153.88" r="3.65"/><circle cx="521.32" cy="154.17" r="3.65"/><circle cx="526.09" cy="154.41" r="3.65"/><circle cx="530.85" cy="154.60" r="3.65"/><circle cx="535.61" cy="154.71" r="3.65"/><circle cx="540.37" cy="154.75" r="3.65"/><circle cx="545.13" cy="154.78" r="3.65"/><circle cx="549.89" cy="154.81" r="3.65"/><circle cx="554.65" cy="154.83" r="3.65"/><circle cx="559.41" cy="154.86" r="3.65"/><circle cx="564.18" cy="154.87" r="3.65"/><circle cx="568.94" cy="154.89" r="3.65"/><circle cx="573.70" cy="154.90" r="3.65"/><circle cx="578.46" cy="154.90" r="3.65"/><circle cx="583.22" cy="154.90" r="3.65"/><circle cx="587.98" cy="154.84" r="3.65"/><circle cx="592.74" cy="154.74" r="3.65"/><circle cx="597.50" cy="154.65" r="3.65"/><circle cx="602.27" cy="154.61" r="3.65"/><circle cx="607.03" cy="154.63" r="3.65"/><circle cx="611.79" cy="154.70" r="3.65"/><circle cx="616.55" cy="154.81" r="3.65"/><circle cx="621.31" cy="154.97" r="3.65"/><circle cx="626.07" cy="155.17" r="3.65"/><circle cx="630.83" cy="155.41" r="3.65"/><circle cx="635.59" cy="155.69" r="3.65"/></g><line x1="588.50" y1="195.80" x2="618.20" y2="195.80" stroke="#86d0ab" stroke-width="1.3"/><circle cx="603.3" cy="195.80" r="3.5" fill="#86d0ab"/><text x="619.70" y="200.20" font-size="12" text-anchor="start" fill="#000" stroke="#000" stroke-width="0.25" >O<tspan font-size="9" dy="3">2</tspan></text><line x1="397.50" y1="217.20" x2="397.50" y2="213.60" stroke="#363636" stroke-width="1.25"/><line x1="417.99" y1="217.20" x2="417.99" y2="215.40" stroke="#363636" stroke-width="1.25"/><line x1="438.48" y1="217.20" x2="438.48" y2="213.60" stroke="#363636" stroke-width="1.25"/><line x1="458.97" y1="217.20" x2="458.97" y2="215.40" stroke="#363636" stroke-width="1.25"/><line x1="479.46" y1="217.20" x2="479.46" y2="213.60" stroke="#363636" stroke-width="1.25"/><line x1="499.95" y1="217.20" x2="499.95" y2="215.40" stroke="#363636" stroke-width="1.25"/><line x1="520.44" y1="217.20" x2="520.44" y2="213.60" stroke="#363636" stroke-width="1.25"/><line x1="540.93" y1="217.20" x2="540.93" y2="215.40" stroke="#363636" stroke-width="1.25"/><line x1="561.42" y1="217.20" x2="561.42" y2="213.60" stroke="#363636" stroke-width="1.25"/><line x1="581.91" y1="217.20" x2="581.91" y2="215.40" stroke="#363636" stroke-width="1.25"/><line x1="602.40" y1="217.20" x2="602.40" y2="213.60" stroke="#363636" stroke-width="1.25"/><line x1="622.89" y1="217.20" x2="622.89" y2="215.40" stroke="#363636" stroke-width="1.25"/><line x1="643.38" y1="217.20" x2="643.38" y2="213.60" stroke="#363636" stroke-width="1.25"/><line x1="387.50" y1="214.70" x2="391.10" y2="214.70" stroke="#363636" stroke-width="1.25"/><line x1="643.50" y1="214.70" x2="639.90" y2="214.70" stroke="#363636" stroke-width="1.25"/><text x="384.30" y="219.10" font-size="12.4" text-anchor="end" fill="#000" stroke="#000" stroke-width="0.25" >0.0</text><line x1="387.50" y1="190.90" x2="391.10" y2="190.90" stroke="#363636" stroke-width="1.25"/><line x1="643.50" y1="190.90" x2="639.90" y2="190.90" stroke="#363636" stroke-width="1.25"/><text x="384.30" y="195.30" font-size="12.4" text-anchor="end" fill="#000" stroke="#000" stroke-width="0.25" >0.4</text><line x1="387.50" y1="167.10" x2="391.10" y2="167.10" stroke="#363636" stroke-width="1.25"/><line x1="643.50" y1="167.10" x2="639.90" y2="167.10" stroke="#363636" stroke-width="1.25"/><text x="384.30" y="171.50" font-size="12.4" text-anchor="end" fill="#000" stroke="#000" stroke-width="0.25" >0.8</text><line x1="387.50" y1="143.30" x2="391.10" y2="143.30" stroke="#363636" stroke-width="1.25"/><line x1="643.50" y1="143.30" x2="639.90" y2="143.30" stroke="#363636" stroke-width="1.25"/><text x="384.30" y="147.70" font-size="12.4" text-anchor="end" fill="#000" stroke="#000" stroke-width="0.25" >1.2</text><text x="384.30" y="123.90" font-size="12.4" text-anchor="end" fill="#000" stroke="#000" stroke-width="0.25" >1.6</text><text transform="translate(357.5,179.8) rotate(-90)" font-size="16" stroke="#000" stroke-width="0.25" font-style="italic">C/C<tspan font-size="10.5" font-style="italic" dy="3.6">0</tspan></text><polyline points="390.74,309.20 397.91,309.20 404.47,309.20 411.23,309.20 417.38,306.97 422.50,300.89 427.01,291.74 431.51,284.52 435.82,279.10 440.32,274.70 445.24,270.49 449.95,267.12 454.67,264.06 459.43,260.77 464.19,258.06 468.95,255.72 473.71,254.21 478.47,252.84 483.23,251.84 488.00,250.84 492.76,250.21 497.52,249.80 502.28,249.56 507.04,249.40 511.80,249.40 516.56,249.73 521.32,249.90 526.09,249.90 530.85,249.90 535.61,249.90 540.37,249.90 545.13,249.90 549.89,249.90 554.65,249.89 559.41,249.89 564.18,249.89 568.94,249.88 573.70,249.87 578.46,249.86 583.22,249.85 587.98,249.84 592.74,249.83 597.50,249.81 602.27,249.80 607.03,249.78 611.79,249.76 616.55,249.73 621.31,249.71 626.07,249.68 630.83,249.65 635.59,249.61" fill="none" stroke="#f5924f" stroke-width="1.1" stroke-linejoin="round"/><g fill="#f5924f"><circle cx="390.74" cy="309.20" r="3.65"/><circle cx="397.91" cy="309.20" r="3.65"/><circle cx="404.47" cy="309.20" r="3.65"/><circle cx="411.23" cy="309.20" r="3.65"/><circle cx="417.38" cy="306.97" r="3.65"/><circle cx="422.50" cy="300.89" r="3.65"/><circle cx="427.01" cy="291.74" r="3.65"/><circle cx="431.51" cy="284.52" r="3.65"/><circle cx="435.82" cy="279.10" r="3.65"/><circle cx="440.32" cy="274.70" r="3.65"/><circle cx="445.24" cy="270.49" r="3.65"/><circle cx="449.95" cy="267.12" r="3.65"/><circle cx="454.67" cy="264.06" r="3.65"/><circle cx="459.43" cy="260.77" r="3.65"/><circle cx="464.19" cy="258.06" r="3.65"/><circle cx="468.95" cy="255.72" r="3.65"/><circle cx="473.71" cy="254.21" r="3.65"/><circle cx="478.47" cy="252.84" r="3.65"/><circle cx="483.23" cy="251.84" r="3.65"/><circle cx="488.00" cy="250.84" r="3.65"/><circle cx="492.76" cy="250.21" r="3.65"/><circle cx="497.52" cy="249.80" r="3.65"/><circle cx="502.28" cy="249.56" r="3.65"/><circle cx="507.04" cy="249.40" r="3.65"/><circle cx="511.80" cy="249.40" r="3.65"/><circle cx="516.56" cy="249.73" r="3.65"/><circle cx="521.32" cy="249.90" r="3.65"/><circle cx="526.09" cy="249.90" r="3.65"/><circle cx="530.85" cy="249.90" r="3.65"/><circle cx="535.61" cy="249.90" r="3.65"/><circle cx="540.37" cy="249.90" r="3.65"/><circle cx="545.13" cy="249.90" r="3.65"/><circle cx="549.89" cy="249.90" r="3.65"/><circle cx="554.65" cy="249.89" r="3.65"/><circle cx="559.41" cy="249.89" r="3.65"/><circle cx="564.18" cy="249.89" r="3.65"/><circle cx="568.94" cy="249.88" r="3.65"/><circle cx="573.70" cy="249.87" r="3.65"/><circle cx="578.46" cy="249.86" r="3.65"/><circle cx="583.22" cy="249.85" r="3.65"/><circle cx="587.98" cy="249.84" r="3.65"/><circle cx="592.74" cy="249.83" r="3.65"/><circle cx="597.50" cy="249.81" r="3.65"/><circle cx="602.27" cy="249.80" r="3.65"/><circle cx="607.03" cy="249.78" r="3.65"/><circle cx="611.79" cy="249.76" r="3.65"/><circle cx="616.55" cy="249.73" r="3.65"/><circle cx="621.31" cy="249.71" r="3.65"/><circle cx="626.07" cy="249.68" r="3.65"/><circle cx="630.83" cy="249.65" r="3.65"/><circle cx="635.59" cy="249.61" r="3.65"/></g><line x1="588.50" y1="290.70" x2="618.20" y2="290.70" stroke="#f5924f" stroke-width="1.3"/><circle cx="603.3" cy="290.70" r="3.5" fill="#f5924f"/><text x="621.20" y="295.10" font-size="12" text-anchor="start" fill="#000" stroke="#000" stroke-width="0.25" >Ar</text><line x1="397.50" y1="312.40" x2="397.50" y2="308.80" stroke="#363636" stroke-width="1.25"/><line x1="417.99" y1="312.40" x2="417.99" y2="310.60" stroke="#363636" stroke-width="1.25"/><line x1="438.48" y1="312.40" x2="438.48" y2="308.80" stroke="#363636" stroke-width="1.25"/><line x1="458.97" y1="312.40" x2="458.97" y2="310.60" stroke="#363636" stroke-width="1.25"/><line x1="479.46" y1="312.40" x2="479.46" y2="308.80" stroke="#363636" stroke-width="1.25"/><line x1="499.95" y1="312.40" x2="499.95" y2="310.60" stroke="#363636" stroke-width="1.25"/><line x1="520.44" y1="312.40" x2="520.44" y2="308.80" stroke="#363636" stroke-width="1.25"/><line x1="540.93" y1="312.40" x2="540.93" y2="310.60" stroke="#363636" stroke-width="1.25"/><line x1="561.42" y1="312.40" x2="561.42" y2="308.80" stroke="#363636" stroke-width="1.25"/><line x1="581.91" y1="312.40" x2="581.91" y2="310.60" stroke="#363636" stroke-width="1.25"/><line x1="602.40" y1="312.40" x2="602.40" y2="308.80" stroke="#363636" stroke-width="1.25"/><line x1="622.89" y1="312.40" x2="622.89" y2="310.60" stroke="#363636" stroke-width="1.25"/><line x1="643.38" y1="312.40" x2="643.38" y2="308.80" stroke="#363636" stroke-width="1.25"/><line x1="387.50" y1="309.80" x2="391.10" y2="309.80" stroke="#363636" stroke-width="1.25"/><line x1="643.50" y1="309.80" x2="639.90" y2="309.80" stroke="#363636" stroke-width="1.25"/><text x="647.40" y="314.20" font-size="12.4" text-anchor="start" fill="#000" stroke="#000" stroke-width="0.25" >0.0</text><line x1="387.50" y1="285.72" x2="391.10" y2="285.72" stroke="#363636" stroke-width="1.25"/><line x1="643.50" y1="285.72" x2="639.90" y2="285.72" stroke="#363636" stroke-width="1.25"/><text x="647.40" y="290.12" font-size="12.4" text-anchor="start" fill="#000" stroke="#000" stroke-width="0.25" >0.4</text><line x1="387.50" y1="261.64" x2="391.10" y2="261.64" stroke="#363636" stroke-width="1.25"/><line x1="643.50" y1="261.64" x2="639.90" y2="261.64" stroke="#363636" stroke-width="1.25"/><text x="647.40" y="266.04" font-size="12.4" text-anchor="start" fill="#000" stroke="#000" stroke-width="0.25" >0.8</text><line x1="387.50" y1="237.56" x2="391.10" y2="237.56" stroke="#363636" stroke-width="1.25"/><line x1="643.50" y1="237.56" x2="639.90" y2="237.56" stroke="#363636" stroke-width="1.25"/><text x="647.40" y="241.96" font-size="12.4" text-anchor="start" fill="#000" stroke="#000" stroke-width="0.25" >1.2</text><text x="647.40" y="217.88" font-size="12.4" text-anchor="start" fill="#000" stroke="#000" stroke-width="0.25" >1.6</text><text transform="translate(680.0,279.0) rotate(-90)" font-size="16" stroke="#000" stroke-width="0.25" font-style="italic">C/C<tspan font-size="10.5" font-style="italic" dy="3.6">0</tspan></text><polyline points="390.33,403.91 397.91,403.62 404.88,403.62 411.23,391.52 416.97,351.69 422.09,329.39 426.80,329.39 431.51,336.89 435.82,346.38 440.53,349.28 445.24,349.54 449.98,349.63 454.72,349.59 459.46,349.51 464.19,349.41 468.93,349.29 473.67,349.17 478.41,349.06 483.15,348.96 487.89,348.87 492.62,348.76 497.36,348.66 502.10,348.56 506.84,348.45 511.58,348.35 516.32,348.24 521.05,348.14 525.79,348.03 530.53,347.92 535.27,347.80 540.01,347.68 544.75,347.57 549.48,347.46 554.22,347.37 558.96,347.30 563.70,347.25 568.44,347.21 573.18,347.18 577.91,347.15 582.65,347.13 587.39,347.10 592.13,347.07 596.87,347.03 601.61,346.98 606.34,346.91 611.08,346.78 615.82,346.61 620.56,346.40 625.30,346.17 630.04,345.91 634.77,345.64" fill="none" stroke="#574a9e" stroke-width="1.1" stroke-linejoin="round"/><g fill="#574a9e"><circle cx="390.33" cy="403.91" r="3.65"/><circle cx="397.91" cy="403.62" r="3.65"/><circle cx="404.88" cy="403.62" r="3.65"/><circle cx="411.23" cy="391.52" r="3.65"/><circle cx="416.97" cy="351.69" r="3.65"/><circle cx="422.09" cy="329.39" r="3.65"/><circle cx="426.80" cy="329.39" r="3.65"/><circle cx="431.51" cy="336.89" r="3.65"/><circle cx="435.82" cy="346.38" r="3.65"/><circle cx="440.53" cy="349.28" r="3.65"/><circle cx="445.24" cy="349.54" r="3.65"/><circle cx="449.98" cy="349.63" r="3.65"/><circle cx="454.72" cy="349.59" r="3.65"/><circle cx="459.46" cy="349.51" r="3.65"/><circle cx="464.19" cy="349.41" r="3.65"/><circle cx="468.93" cy="349.29" r="3.65"/><circle cx="473.67" cy="349.17" r="3.65"/><circle cx="478.41" cy="349.06" r="3.65"/><circle cx="483.15" cy="348.96" r="3.65"/><circle cx="487.89" cy="348.87" r="3.65"/><circle cx="492.62" cy="348.76" r="3.65"/><circle cx="497.36" cy="348.66" r="3.65"/><circle cx="502.10" cy="348.56" r="3.65"/><circle cx="506.84" cy="348.45" r="3.65"/><circle cx="511.58" cy="348.35" r="3.65"/><circle cx="516.32" cy="348.24" r="3.65"/><circle cx="521.05" cy="348.14" r="3.65"/><circle cx="525.79" cy="348.03" r="3.65"/><circle cx="530.53" cy="347.92" r="3.65"/><circle cx="535.27" cy="347.80" r="3.65"/><circle cx="540.01" cy="347.68" r="3.65"/><circle cx="544.75" cy="347.57" r="3.65"/><circle cx="549.48" cy="347.46" r="3.65"/><circle cx="554.22" cy="347.37" r="3.65"/><circle cx="558.96" cy="347.30" r="3.65"/><circle cx="563.70" cy="347.25" r="3.65"/><circle cx="568.44" cy="347.21" r="3.65"/><circle cx="573.18" cy="347.18" r="3.65"/><circle cx="577.91" cy="347.15" r="3.65"/><circle cx="582.65" cy="347.13" r="3.65"/><circle cx="587.39" cy="347.10" r="3.65"/><circle cx="592.13" cy="347.07" r="3.65"/><circle cx="596.87" cy="347.03" r="3.65"/><circle cx="601.61" cy="346.98" r="3.65"/><circle cx="606.34" cy="346.91" r="3.65"/><circle cx="611.08" cy="346.78" r="3.65"/><circle cx="615.82" cy="346.61" r="3.65"/><circle cx="620.56" cy="346.40" r="3.65"/><circle cx="625.30" cy="346.17" r="3.65"/><circle cx="630.04" cy="345.91" r="3.65"/><circle cx="634.77" cy="345.64" r="3.65"/></g><line x1="588.50" y1="385.20" x2="618.20" y2="385.20" stroke="#574a9e" stroke-width="1.3"/><circle cx="603.3" cy="385.20" r="3.5" fill="#574a9e"/><text x="621.20" y="389.60" font-size="12" text-anchor="start" fill="#000" stroke="#000" stroke-width="0.25" >Xe</text><line x1="397.50" y1="407.50" x2="397.50" y2="403.90" stroke="#363636" stroke-width="1.25"/><line x1="417.99" y1="407.50" x2="417.99" y2="405.70" stroke="#363636" stroke-width="1.25"/><line x1="438.48" y1="407.50" x2="438.48" y2="403.90" stroke="#363636" stroke-width="1.25"/><line x1="458.97" y1="407.50" x2="458.97" y2="405.70" stroke="#363636" stroke-width="1.25"/><line x1="479.46" y1="407.50" x2="479.46" y2="403.90" stroke="#363636" stroke-width="1.25"/><line x1="499.95" y1="407.50" x2="499.95" y2="405.70" stroke="#363636" stroke-width="1.25"/><line x1="520.44" y1="407.50" x2="520.44" y2="403.90" stroke="#363636" stroke-width="1.25"/><line x1="540.93" y1="407.50" x2="540.93" y2="405.70" stroke="#363636" stroke-width="1.25"/><line x1="561.42" y1="407.50" x2="561.42" y2="403.90" stroke="#363636" stroke-width="1.25"/><line x1="581.91" y1="407.50" x2="581.91" y2="405.70" stroke="#363636" stroke-width="1.25"/><line x1="602.40" y1="407.50" x2="602.40" y2="403.90" stroke="#363636" stroke-width="1.25"/><line x1="622.89" y1="407.50" x2="622.89" y2="405.70" stroke="#363636" stroke-width="1.25"/><line x1="643.38" y1="407.50" x2="643.38" y2="403.90" stroke="#363636" stroke-width="1.25"/><line x1="387.50" y1="404.50" x2="391.10" y2="404.50" stroke="#363636" stroke-width="1.25"/><line x1="643.50" y1="404.50" x2="639.90" y2="404.50" stroke="#363636" stroke-width="1.25"/><text x="384.30" y="408.90" font-size="12.4" text-anchor="end" fill="#000" stroke="#000" stroke-width="0.25" >0.0</text><line x1="387.50" y1="380.90" x2="391.10" y2="380.90" stroke="#363636" stroke-width="1.25"/><line x1="643.50" y1="380.90" x2="639.90" y2="380.90" stroke="#363636" stroke-width="1.25"/><text x="384.30" y="385.30" font-size="12.4" text-anchor="end" fill="#000" stroke="#000" stroke-width="0.25" >0.4</text><line x1="387.50" y1="357.30" x2="391.10" y2="357.30" stroke="#363636" stroke-width="1.25"/><line x1="643.50" y1="357.30" x2="639.90" y2="357.30" stroke="#363636" stroke-width="1.25"/><text x="384.30" y="361.70" font-size="12.4" text-anchor="end" fill="#000" stroke="#000" stroke-width="0.25" >0.8</text><line x1="387.50" y1="333.70" x2="391.10" y2="333.70" stroke="#363636" stroke-width="1.25"/><line x1="643.50" y1="333.70" x2="639.90" y2="333.70" stroke="#363636" stroke-width="1.25"/><text x="384.30" y="338.10" font-size="12.4" text-anchor="end" fill="#000" stroke="#000" stroke-width="0.25" >1.2</text><text x="384.30" y="314.50" font-size="12.4" text-anchor="end" fill="#000" stroke="#000" stroke-width="0.25" >1.6</text><text transform="translate(357.5,368.7) rotate(-90)" font-size="16" stroke="#000" stroke-width="0.25" font-style="italic">C/C<tspan font-size="10.5" font-style="italic" dy="3.6">0</tspan></text><polyline points="389.30,498.42 394.02,498.41 398.73,498.40 403.44,498.39 408.15,498.37 412.87,498.34 417.58,498.31 422.29,498.28 427.01,498.24 431.72,498.19 436.43,498.14 441.14,498.08 445.86,497.99 450.57,497.84 455.28,497.63 459.99,497.36 464.71,496.77 469.42,495.67 474.13,494.22 478.85,492.65 483.56,491.65 488.27,490.91 492.98,490.18 497.70,489.24 502.41,487.75 507.12,485.52 511.83,483.14 516.55,481.11 521.26,479.19 525.97,477.36 530.68,475.62 535.40,473.99 540.11,472.40 544.82,470.78 549.54,469.14 554.25,467.48 558.96,465.83 563.67,464.23 568.39,462.53 573.10,460.51 577.81,458.28 582.52,456.35 587.24,454.57 591.95,452.87 596.66,451.21 601.38,449.55 606.09,447.91 610.80,446.36 615.51,444.96 620.23,443.70 624.94,442.53 629.65,441.46 634.36,440.52" fill="none" stroke="#cc2d4f" stroke-width="1.1" stroke-linejoin="round"/><g fill="#cc2d4f"><circle cx="389.30" cy="498.42" r="3.65"/><circle cx="394.02" cy="498.41" r="3.65"/><circle cx="398.73" cy="498.40" r="3.65"/><circle cx="403.44" cy="498.39" r="3.65"/><circle cx="408.15" cy="498.37" r="3.65"/><circle cx="412.87" cy="498.34" r="3.65"/><circle cx="417.58" cy="498.31" r="3.65"/><circle cx="422.29" cy="498.28" r="3.65"/><circle cx="427.01" cy="498.24" r="3.65"/><circle cx="431.72" cy="498.19" r="3.65"/><circle cx="436.43" cy="498.14" r="3.65"/><circle cx="441.14" cy="498.08" r="3.65"/><circle cx="445.86" cy="497.99" r="3.65"/><circle cx="450.57" cy="497.84" r="3.65"/><circle cx="455.28" cy="497.63" r="3.65"/><circle cx="459.99" cy="497.36" r="3.65"/><circle cx="464.71" cy="496.77" r="3.65"/><circle cx="469.42" cy="495.67" r="3.65"/><circle cx="474.13" cy="494.22" r="3.65"/><circle cx="478.85" cy="492.65" r="3.65"/><circle cx="483.56" cy="491.65" r="3.65"/><circle cx="488.27" cy="490.91" r="3.65"/><circle cx="492.98" cy="490.18" r="3.65"/><circle cx="497.70" cy="489.24" r="3.65"/><circle cx="502.41" cy="487.75" r="3.65"/><circle cx="507.12" cy="485.52" r="3.65"/><circle cx="511.83" cy="483.14" r="3.65"/><circle cx="516.55" cy="481.11" r="3.65"/><circle cx="521.26" cy="479.19" r="3.65"/><circle cx="525.97" cy="477.36" r="3.65"/><circle cx="530.68" cy="475.62" r="3.65"/><circle cx="535.40" cy="473.99" r="3.65"/><circle cx="540.11" cy="472.40" r="3.65"/><circle cx="544.82" cy="470.78" r="3.65"/><circle cx="549.54" cy="469.14" r="3.65"/><circle cx="554.25" cy="467.48" r="3.65"/><circle cx="558.96" cy="465.83" r="3.65"/><circle cx="563.67" cy="464.23" r="3.65"/><circle cx="568.39" cy="462.53" r="3.65"/><circle cx="573.10" cy="460.51" r="3.65"/><circle cx="577.81" cy="458.28" r="3.65"/><circle cx="582.52" cy="456.35" r="3.65"/><circle cx="587.24" cy="454.57" r="3.65"/><circle cx="591.95" cy="452.87" r="3.65"/><circle cx="596.66" cy="451.21" r="3.65"/><circle cx="601.38" cy="449.55" r="3.65"/><circle cx="606.09" cy="447.91" r="3.65"/><circle cx="610.80" cy="446.36" r="3.65"/><circle cx="615.51" cy="444.96" r="3.65"/><circle cx="620.23" cy="443.70" r="3.65"/><circle cx="624.94" cy="442.53" r="3.65"/><circle cx="629.65" cy="441.46" r="3.65"/><circle cx="634.36" cy="440.52" r="3.65"/></g><line x1="588.50" y1="480.20" x2="618.20" y2="480.20" stroke="#cc2d4f" stroke-width="1.3"/><circle cx="603.3" cy="480.20" r="3.5" fill="#cc2d4f"/><text x="621.20" y="484.60" font-size="12" text-anchor="start" fill="#000" stroke="#000" stroke-width="0.25" >Kr</text><line x1="397.50" y1="502.30" x2="397.50" y2="498.70" stroke="#363636" stroke-width="1.25"/><line x1="417.99" y1="502.30" x2="417.99" y2="500.50" stroke="#363636" stroke-width="1.25"/><line x1="438.48" y1="502.30" x2="438.48" y2="498.70" stroke="#363636" stroke-width="1.25"/><line x1="458.97" y1="502.30" x2="458.97" y2="500.50" stroke="#363636" stroke-width="1.25"/><line x1="479.46" y1="502.30" x2="479.46" y2="498.70" stroke="#363636" stroke-width="1.25"/><line x1="499.95" y1="502.30" x2="499.95" y2="500.50" stroke="#363636" stroke-width="1.25"/><line x1="520.44" y1="502.30" x2="520.44" y2="498.70" stroke="#363636" stroke-width="1.25"/><line x1="540.93" y1="502.30" x2="540.93" y2="500.50" stroke="#363636" stroke-width="1.25"/><line x1="561.42" y1="502.30" x2="561.42" y2="498.70" stroke="#363636" stroke-width="1.25"/><line x1="581.91" y1="502.30" x2="581.91" y2="500.50" stroke="#363636" stroke-width="1.25"/><line x1="602.40" y1="502.30" x2="602.40" y2="498.70" stroke="#363636" stroke-width="1.25"/><line x1="622.89" y1="502.30" x2="622.89" y2="500.50" stroke="#363636" stroke-width="1.25"/><line x1="643.38" y1="502.30" x2="643.38" y2="498.70" stroke="#363636" stroke-width="1.25"/><line x1="387.50" y1="499.60" x2="391.10" y2="499.60" stroke="#363636" stroke-width="1.25"/><line x1="643.50" y1="499.60" x2="639.90" y2="499.60" stroke="#363636" stroke-width="1.25"/><text x="647.40" y="504.00" font-size="12.4" text-anchor="start" fill="#000" stroke="#000" stroke-width="0.25" >0.0</text><line x1="387.50" y1="475.92" x2="391.10" y2="475.92" stroke="#363636" stroke-width="1.25"/><line x1="643.50" y1="475.92" x2="639.90" y2="475.92" stroke="#363636" stroke-width="1.25"/><text x="647.40" y="480.32" font-size="12.4" text-anchor="start" fill="#000" stroke="#000" stroke-width="0.25" >0.4</text><line x1="387.50" y1="452.24" x2="391.10" y2="452.24" stroke="#363636" stroke-width="1.25"/><line x1="643.50" y1="452.24" x2="639.90" y2="452.24" stroke="#363636" stroke-width="1.25"/><text x="647.40" y="456.64" font-size="12.4" text-anchor="start" fill="#000" stroke="#000" stroke-width="0.25" >0.8</text><line x1="387.50" y1="428.56" x2="391.10" y2="428.56" stroke="#363636" stroke-width="1.25"/><line x1="643.50" y1="428.56" x2="639.90" y2="428.56" stroke="#363636" stroke-width="1.25"/><text x="647.40" y="432.96" font-size="12.4" text-anchor="start" fill="#000" stroke="#000" stroke-width="0.25" >1.2</text><text x="647.40" y="409.28" font-size="12.4" text-anchor="start" fill="#000" stroke="#000" stroke-width="0.25" >1.6</text><text transform="translate(680.0,470.2) rotate(-90)" font-size="16" stroke="#000" stroke-width="0.25" font-style="italic">C/C<tspan font-size="10.5" font-style="italic" dy="3.6">0</tspan></text><polyline points="389.71,524.88 392.58,526.31 397.91,525.85 404.47,530.21 411.23,531.70 417.38,535.40 422.50,548.27 427.01,565.30 431.51,579.02 435.82,585.65 440.32,588.51 445.24,590.00 449.95,590.72 454.70,591.06 459.45,591.24 464.20,591.25 468.95,591.25 473.70,591.25 478.45,591.26 483.20,591.26 487.95,591.27 492.70,591.27 497.45,591.27 502.20,591.28 506.95,591.28 511.70,591.28 516.45,591.28 521.20,591.29 525.95,591.29 530.70,591.29 535.44,591.29 540.19,591.29 544.94,591.29 549.69,591.30 554.44,591.30 559.19,591.30 563.94,591.30 568.69,591.30 573.44,591.30 578.19,591.30 582.94,591.30 587.69,591.30 592.44,591.30 597.19,591.30 601.94,591.30 606.69,591.30 611.44,591.30 616.19,591.30 620.94,591.30 625.69,591.30 630.43,591.30 635.18,591.30" fill="none" stroke="#000000" stroke-width="1.1" stroke-linejoin="round"/><g fill="#000000"><circle cx="389.71" cy="524.88" r="3.65"/><circle cx="392.58" cy="526.31" r="3.65"/><circle cx="397.91" cy="525.85" r="3.65"/><circle cx="404.47" cy="530.21" r="3.65"/><circle cx="411.23" cy="531.70" r="3.65"/><circle cx="417.38" cy="535.40" r="3.65"/><circle cx="422.50" cy="548.27" r="3.65"/><circle cx="427.01" cy="565.30" r="3.65"/><circle cx="431.51" cy="579.02" r="3.65"/><circle cx="435.82" cy="585.65" r="3.65"/><circle cx="440.32" cy="588.51" r="3.65"/><circle cx="445.24" cy="590.00" r="3.65"/><circle cx="449.95" cy="590.72" r="3.65"/><circle cx="454.70" cy="591.06" r="3.65"/><circle cx="459.45" cy="591.24" r="3.65"/><circle cx="464.20" cy="591.25" r="3.65"/><circle cx="468.95" cy="591.25" r="3.65"/><circle cx="473.70" cy="591.25" r="3.65"/><circle cx="478.45" cy="591.26" r="3.65"/><circle cx="483.20" cy="591.26" r="3.65"/><circle cx="487.95" cy="591.27" r="3.65"/><circle cx="492.70" cy="591.27" r="3.65"/><circle cx="497.45" cy="591.27" r="3.65"/><circle cx="502.20" cy="591.28" r="3.65"/><circle cx="506.95" cy="591.28" r="3.65"/><circle cx="511.70" cy="591.28" r="3.65"/><circle cx="516.45" cy="591.28" r="3.65"/><circle cx="521.20" cy="591.29" r="3.65"/><circle cx="525.95" cy="591.29" r="3.65"/><circle cx="530.70" cy="591.29" r="3.65"/><circle cx="535.44" cy="591.29" r="3.65"/><circle cx="540.19" cy="591.29" r="3.65"/><circle cx="544.94" cy="591.29" r="3.65"/><circle cx="549.69" cy="591.30" r="3.65"/><circle cx="554.44" cy="591.30" r="3.65"/><circle cx="559.19" cy="591.30" r="3.65"/><circle cx="563.94" cy="591.30" r="3.65"/><circle cx="568.69" cy="591.30" r="3.65"/><circle cx="573.44" cy="591.30" r="3.65"/><circle cx="578.19" cy="591.30" r="3.65"/><circle cx="582.94" cy="591.30" r="3.65"/><circle cx="587.69" cy="591.30" r="3.65"/><circle cx="592.44" cy="591.30" r="3.65"/><circle cx="597.19" cy="591.30" r="3.65"/><circle cx="601.94" cy="591.30" r="3.65"/><circle cx="606.69" cy="591.30" r="3.65"/><circle cx="611.44" cy="591.30" r="3.65"/><circle cx="616.19" cy="591.30" r="3.65"/><circle cx="620.94" cy="591.30" r="3.65"/><circle cx="625.69" cy="591.30" r="3.65"/><circle cx="630.43" cy="591.30" r="3.65"/><circle cx="635.18" cy="591.30" r="3.65"/></g><line x1="588.50" y1="576.00" x2="618.20" y2="576.00" stroke="#000000" stroke-width="1.3"/><circle cx="603.3" cy="576.00" r="3.5" fill="#000000"/><text x="621.20" y="580.40" font-size="12" text-anchor="start" fill="#000" stroke="#000" stroke-width="0.25" >He</text><line x1="397.50" y1="597.50" x2="397.50" y2="593.90" stroke="#363636" stroke-width="1.25"/><line x1="417.99" y1="597.50" x2="417.99" y2="595.70" stroke="#363636" stroke-width="1.25"/><line x1="438.48" y1="597.50" x2="438.48" y2="593.90" stroke="#363636" stroke-width="1.25"/><line x1="458.97" y1="597.50" x2="458.97" y2="595.70" stroke="#363636" stroke-width="1.25"/><line x1="479.46" y1="597.50" x2="479.46" y2="593.90" stroke="#363636" stroke-width="1.25"/><line x1="499.95" y1="597.50" x2="499.95" y2="595.70" stroke="#363636" stroke-width="1.25"/><line x1="520.44" y1="597.50" x2="520.44" y2="593.90" stroke="#363636" stroke-width="1.25"/><line x1="540.93" y1="597.50" x2="540.93" y2="595.70" stroke="#363636" stroke-width="1.25"/><line x1="561.42" y1="597.50" x2="561.42" y2="593.90" stroke="#363636" stroke-width="1.25"/><line x1="581.91" y1="597.50" x2="581.91" y2="595.70" stroke="#363636" stroke-width="1.25"/><line x1="602.40" y1="597.50" x2="602.40" y2="593.90" stroke="#363636" stroke-width="1.25"/><line x1="622.89" y1="597.50" x2="622.89" y2="595.70" stroke="#363636" stroke-width="1.25"/><line x1="643.38" y1="597.50" x2="643.38" y2="593.90" stroke="#363636" stroke-width="1.25"/><line x1="387.50" y1="591.50" x2="391.10" y2="591.50" stroke="#363636" stroke-width="1.25"/><line x1="643.50" y1="591.50" x2="639.90" y2="591.50" stroke="#363636" stroke-width="1.25"/><text x="384.30" y="595.90" font-size="12.4" text-anchor="end" fill="#000" stroke="#000" stroke-width="0.25" >0.0</text><line x1="387.50" y1="565.50" x2="391.10" y2="565.50" stroke="#363636" stroke-width="1.25"/><line x1="643.50" y1="565.50" x2="639.90" y2="565.50" stroke="#363636" stroke-width="1.25"/><text x="384.30" y="569.90" font-size="12.4" text-anchor="end" fill="#000" stroke="#000" stroke-width="0.25" >0.4</text><line x1="387.50" y1="539.50" x2="391.10" y2="539.50" stroke="#363636" stroke-width="1.25"/><line x1="643.50" y1="539.50" x2="639.90" y2="539.50" stroke="#363636" stroke-width="1.25"/><text x="384.30" y="543.90" font-size="12.4" text-anchor="end" fill="#000" stroke="#000" stroke-width="0.25" >0.8</text><line x1="387.50" y1="513.50" x2="391.10" y2="513.50" stroke="#363636" stroke-width="1.25"/><line x1="643.50" y1="513.50" x2="639.90" y2="513.50" stroke="#363636" stroke-width="1.25"/><text x="384.30" y="517.90" font-size="12.4" text-anchor="end" fill="#000" stroke="#000" stroke-width="0.25" >1.2</text><text transform="translate(357.5,560.2) rotate(-90)" font-size="16" stroke="#000" stroke-width="0.25" font-style="italic">C/C<tspan font-size="10.5" font-style="italic" dy="3.6">0</tspan></text><line x1="387.50" y1="122.60" x2="643.50" y2="122.60" stroke="#363636" stroke-width="1.25"/><line x1="387.50" y1="217.20" x2="643.50" y2="217.20" stroke="#363636" stroke-width="1.25"/><line x1="387.50" y1="312.40" x2="643.50" y2="312.40" stroke="#363636" stroke-width="1.25"/><line x1="387.50" y1="407.50" x2="643.50" y2="407.50" stroke="#363636" stroke-width="1.25"/><line x1="387.50" y1="502.30" x2="643.50" y2="502.30" stroke="#363636" stroke-width="1.25"/><rect x="387.50" y="25.10" width="256.00" height="572.40" fill="none" stroke="#363636" stroke-width="1.25"/><text x="397.50" y="611.00" font-size="12" text-anchor="middle" fill="#000" stroke="#000" stroke-width="0.25" >0</text><text x="438.48" y="611.00" font-size="12" text-anchor="middle" fill="#000" stroke="#000" stroke-width="0.25" >20</text><text x="479.46" y="611.00" font-size="12" text-anchor="middle" fill="#000" stroke="#000" stroke-width="0.25" >40</text><text x="520.44" y="611.00" font-size="12" text-anchor="middle" fill="#000" stroke="#000" stroke-width="0.25" >60</text><text x="561.42" y="611.00" font-size="12" text-anchor="middle" fill="#000" stroke="#000" stroke-width="0.25" >80</text><text x="602.40" y="611.00" font-size="12" text-anchor="middle" fill="#000" stroke="#000" stroke-width="0.25" >100</text><text x="643.38" y="611.00" font-size="12" text-anchor="middle" fill="#000" stroke="#000" stroke-width="0.25" >120</text><text x="516.50" y="633.20" font-size="16.4" text-anchor="middle" fill="#000" stroke="#000" stroke-width="0.25" font-style="italic">Time (min)</text></g></svg>
</div>
</body></html>
